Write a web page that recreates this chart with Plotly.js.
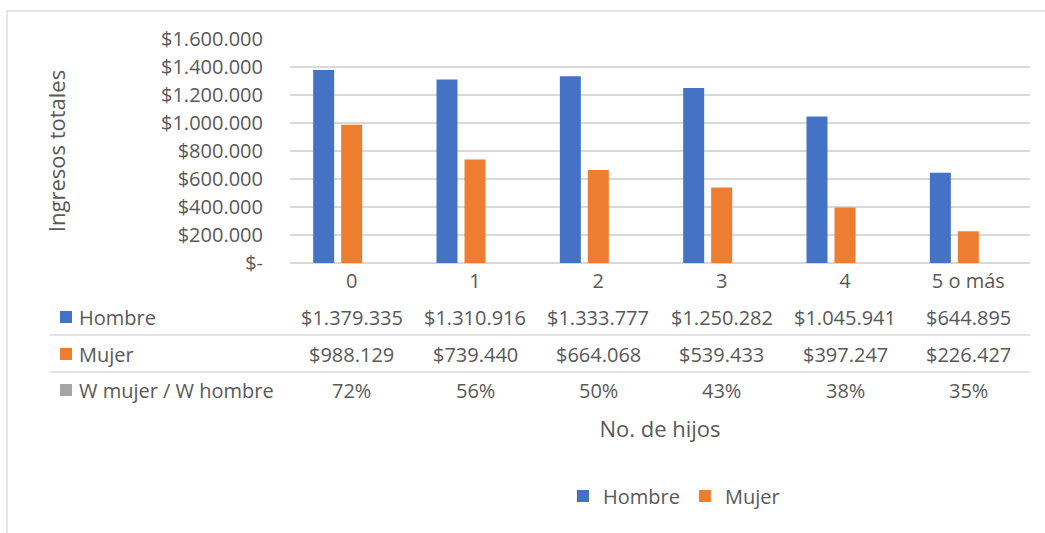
<!DOCTYPE html>
<html>
<head>
<meta charset="utf-8">
<script src="https://cdn.plot.ly/plotly-3.0.1.min.js"></script>
<style>
  html, body { margin: 0; padding: 0; background: #ffffff; }
  #chart { width: 1045px; height: 533px; }
</style>
</head>
<body>
<div id="chart"></div>
<script>
// Ingresos totales por número de hijos, hombres y mujeres
const categories = ['0', '1', '2', '3', '4', '5 o más'];
const hombre = [1379335, 1310916, 1333777, 1250282, 1045941, 644895];
const mujer = [988129, 739440, 664068, 539433, 397247, 226427];
const ratioPct = [72, 56, 50, 43, 38, 35];   // W mujer / W hombre (%)
const yTicks = [0, 200000, 400000, 600000, 800000, 1000000, 1200000, 1400000, 1600000];
const seriesNames = ['Hombre', 'Mujer', 'W mujer / W hombre'];
const seriesColors = ['#4472c4', '#ed7d31', '#a5a5a5'];

// plot area geometry (px)
const W = 1045, H = 533;
const PL = 290, PR = 1030, PT = 39, PB = 263;
const textColor = '#595959';
const gridColor = '#d9d9d9';
const FONT = '"Open Sans", "Noto Sans", sans-serif';

function money(v) {
  if (v === 0) return '$-';
  return '$' + String(v).replace(/\B(?=(\d{3})+(?!\d))/g, '.');
}

const categoryIdx = categories.map((c, i) => i);

const traces = [
  { type: 'bar', name: seriesNames[0], x: categoryIdx, y: hombre,
    marker: { color: seriesColors[0], line: { width: 0 } }, showlegend: true },
  { type: 'bar', name: seriesNames[1], x: categoryIdx, y: mujer,
    marker: { color: seriesColors[1], line: { width: 0 } }, showlegend: true },
  // ratio series shares the value axis, so its bars sit at the baseline
  { type: 'bar', name: seriesNames[2], x: categoryIdx, y: ratioPct.map(p => p / 100),
    marker: { color: seriesColors[2], line: { width: 0 } }, showlegend: false }
];

// data table rows below the axis
const rowY = [317, 354, 390];
const rowTexts = [hombre.map(money), mujer.map(money), ratioPct.map(p => p + '%')];
const rowLines = [335, 372];

const annotations = [];
const shapes = [];
const tableFont = { family: FONT, size: 20, color: textColor };

rowTexts.forEach((texts, r) => {
  texts.forEach((t, i) => {
    annotations.push({
      xref: 'x', x: i, yref: 'paper', y: 0, yshift: -(rowY[r] - PB),
      text: t, showarrow: false, xanchor: 'center', yanchor: 'middle', font: tableFont
    });
  });
  // row header: colour key + series name
  annotations.push({
    xref: 'paper', x: (77 - PL) / (PR - PL), yref: 'paper', y: 0, yshift: -(rowY[r] - PB),
    text: seriesNames[r], showarrow: false, xanchor: 'left', yanchor: 'middle', font: tableFont
  });
  const c = -(rowY[r] - PB);
  shapes.push({
    type: 'rect', xref: 'paper', xsizemode: 'pixel', xanchor: 0, x0: 60 - PL, x1: 72 - PL,
    yref: 'paper', ysizemode: 'pixel', yanchor: 0, y0: c - 6, y1: c + 6,
    fillcolor: seriesColors[r], line: { width: 0 }
  });
});

rowLines.forEach(ly => {
  shapes.push({
    type: 'line', xref: 'paper', xsizemode: 'pixel', xanchor: 0, x0: 50 - PL, x1: PR - PL,
    yref: 'paper', ysizemode: 'pixel', yanchor: 0, y0: -(ly - PB), y1: -(ly - PB),
    line: { color: gridColor, width: 1.3 }
  });
});

// chart frame (top and left edges)
shapes.push({
  type: 'line', xref: 'paper', xsizemode: 'pixel', xanchor: 0, x0: 7 - PL, x1: W - PL,
  yref: 'paper', ysizemode: 'pixel', yanchor: 1, y0: PT - 11, y1: PT - 11,
  line: { color: gridColor, width: 1.3 }
});
shapes.push({
  type: 'line', xref: 'paper', xsizemode: 'pixel', xanchor: 0, x0: 7 - PL, x1: 7 - PL,
  yref: 'paper', ysizemode: 'pixel', yanchor: 1, y0: PT - 11, y1: PT - H,
  line: { color: gridColor, width: 1.3 }
});

const layout = {
  width: W, height: H,
  margin: { l: PL, r: W - PR, t: PT, b: H - PB, pad: 0 },
  paper_bgcolor: '#ffffff', plot_bgcolor: '#ffffff',
  font: { family: FONT, size: 20, color: textColor },
  barmode: 'group', bargap: 0.319, bargroupgap: 0.25,
  showlegend: true,
  legend: {
    orientation: 'h', x: (563 - PL) / (PR - PL), xanchor: 'left',
    y: (PB - 496) / (PB - PT), yanchor: 'middle',
    font: { family: FONT, size: 20, color: textColor },
    traceorder: 'normal'
  },
  xaxis: {
    type: 'linear', range: [-0.5, 5.5],
    tickmode: 'array', tickvals: categoryIdx, ticktext: categories,
    showgrid: false, zeroline: false, showline: false, ticks: '',
    ticklabelstandoff: 4,
    tickfont: { family: FONT, size: 20, color: textColor },
    title: { text: 'No. de hijos', font: { family: FONT, size: 22, color: textColor }, standoff: 128 },
    automargin: false, fixedrange: true
  },
  yaxis: {
    range: [0, 1600000],
    tickmode: 'array', tickvals: yTicks, ticktext: yTicks.map(money),
    showgrid: true, gridcolor: gridColor, gridwidth: 1.3,
    zeroline: true, zerolinecolor: gridColor, zerolinewidth: 1.3,
    showline: false, ticks: '',
    ticklabelstandoff: 26,
    tickfont: { family: FONT, size: 20, color: textColor },
    title: { text: 'Ingresos totales', font: { family: FONT, size: 22, color: textColor }, standoff: 89 },
    automargin: false, fixedrange: true
  },
  annotations: annotations,
  shapes: shapes
};

Plotly.newPlot('chart', traces, layout, { staticPlot: true, displayModeBar: false });
</script>
</body>
</html>
